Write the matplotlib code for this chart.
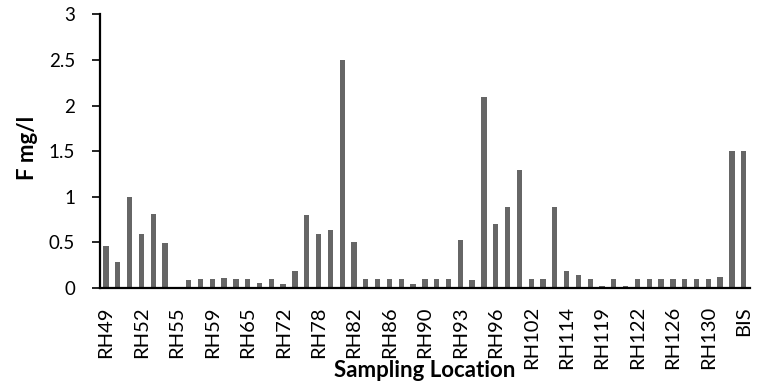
import matplotlib.pyplot as plt
import numpy as np

# sampling locations (only every third one is labelled on the chart)
locations = ['RH49', 'RH50', 'RH51', 'RH52', 'RH53', 'RH54', 'RH55', 'RH57', 'RH58',
             'RH59', 'RH61', 'RH63', 'RH65', 'RH68', 'RH70', 'RH72', 'RH74', 'RH76',
             'RH78', 'RH80', 'RH81', 'RH82', 'RH84', 'RH85', 'RH86', 'RH88', 'RH89',
             'RH90', 'RH91', 'RH92', 'RH93', 'RH94', 'RH95', 'RH96', 'RH98', 'RH100',
             'RH102', 'RH106', 'RH110', 'RH114', 'RH116', 'RH117', 'RH119', 'RH120', 'RH121',
             'RH122', 'RH124', 'RH125', 'RH126', 'RH128', 'RH129', 'RH130', 'RH132', 'RH134',
             'BIS']

# fluoride concentration, mg/l
fluoride = [0.46, 0.29, 1.0, 0.59, 0.81, 0.49, 0.0, 0.09, 0.1,
            0.1, 0.11, 0.1, 0.1, 0.06, 0.1, 0.04, 0.19, 0.8,
            0.59, 0.635, 2.5, 0.51, 0.1, 0.1, 0.1, 0.1, 0.04,
            0.1, 0.1, 0.1, 0.53, 0.09, 2.1, 0.7, 0.89, 1.29,
            0.1, 0.1, 0.89, 0.19, 0.14, 0.1, 0.02, 0.1, 0.02,
            0.1, 0.1, 0.1, 0.1, 0.1, 0.1, 0.1, 0.12, 1.5,
            1.5]

plt.rcParams['font.family'] = ['Lato', 'DejaVu Sans']

fig = plt.figure(figsize=(7.58, 3.9), dpi=100)
ax = fig.add_axes([0.132, 0.2615, 0.857, 0.7015])

x = np.arange(len(locations))
ax.bar(x, fluoride, width=0.45, color='#666666')

ax.set_xlim(-0.5, len(locations) - 0.5)
ax.set_ylim(0, 3)
ax.set_yticks([0, 0.5, 1, 1.5, 2, 2.5, 3])
ax.set_yticklabels(['0', '0.5', '1', '1.5', '2', '2.5', '3'])
ax.set_xticks(x[::3])
ax.set_xticklabels(locations[::3], rotation=90)

ax.tick_params(axis='y', length=6, width=1.2, pad=12, labelsize=13.5)
ax.tick_params(axis='x', length=0, pad=13, labelsize=14.5)

for side in ['top', 'right']:
    ax.spines[side].set_visible(False)
for side in ['left', 'bottom']:
    ax.spines[side].set_linewidth(1.6)

ax.set_ylabel('F mg/l', fontweight='bold', fontsize=16)
ax.yaxis.set_label_coords(-0.095, 0.511)
ax.set_xlabel('Sampling Location', fontweight='bold', fontsize=16)
ax.xaxis.set_label_coords(0.5, -0.263)

fig.savefig('out.png', dpi=100)
